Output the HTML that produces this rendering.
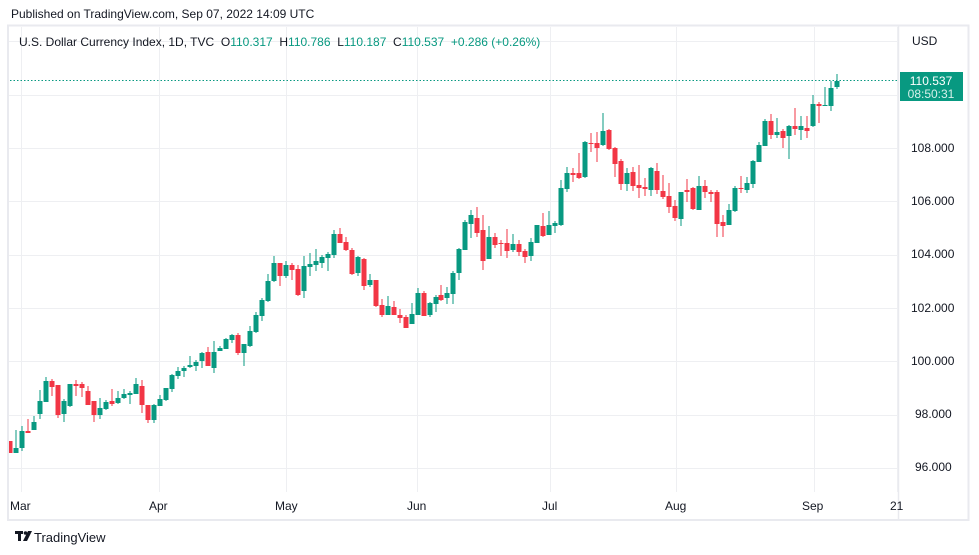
<!DOCTYPE html>
<html><head><meta charset="utf-8"><style>
html,body{margin:0;padding:0;background:#fff;}
body{width:979px;height:555px;position:relative;overflow:hidden;font-family:"Liberation Sans","DejaVu Sans",sans-serif;}
.t{position:absolute;white-space:nowrap;}
</style></head><body>
<div class="t" style="left:11px;top:7px;font-size:12px;color:#131722;">Published on TradingView.com, Sep 07, 2022 14:09 UTC</div>
<svg id="s" width="979" height="555" style="position:absolute;left:0;top:0" xmlns="http://www.w3.org/2000/svg">
<rect x="8" y="25.5" width="960.5" height="494.5" fill="none" stroke="#e9eaef" stroke-width="2"/>
<line x1="898.5" y1="26" x2="898.5" y2="519" stroke="#e9eaef" stroke-width="1.5"/>
<g id="grid" stroke="#eeeff2" stroke-width="1"></g>
<line x1="10" y1="80.5" x2="898" y2="80.5" stroke="#089981" stroke-width="1" stroke-dasharray="1.5,2"/>
<g id="c"></g>
<rect x="900" y="72" width="63" height="29" fill="#089981"/>
<text x="931" y="85" font-size="12" fill="#fff" text-anchor="middle" font-family="Liberation Sans, sans-serif">110.537</text>
<text x="931" y="98" font-size="12" fill="#d6f0ea" text-anchor="middle" font-family="Liberation Sans, sans-serif">08:50:31</text>
<text x="912" y="45" font-size="12" fill="#131722" font-family="Liberation Sans, sans-serif">USD</text>
<g font-size="12" fill="#131722" font-family="Liberation Sans, sans-serif">
<text x="911" y="152">108.000</text><text x="911" y="205">106.000</text><text x="911" y="258">104.000</text>
<text x="911" y="312">102.000</text><text x="911" y="365">100.000</text><text x="915" y="418">98.000</text><text x="915" y="471">96.000</text>
<text x="10" y="510">Mar</text><text x="149" y="510">Apr</text><text x="275" y="510">May</text><text x="407" y="510">Jun</text>
<text x="542" y="510">Jul</text><text x="665" y="510">Aug</text><text x="802" y="510">Sep</text><text x="890" y="510">21</text>
</g>
<g transform="translate(15,531)"><rect x="0" y="0" width="8" height="3" fill="#131722"/><rect x="3" y="0" width="3" height="10" fill="#131722"/><circle cx="10.5" cy="2" r="1.8" fill="#131722"/><polygon points="13,0 17,0 12,10 8,10" fill="#131722"/></g>
<text x="34" y="542" font-size="13" fill="#131722" font-family="Liberation Sans, sans-serif">TradingView</text>
</svg>
<div class="t" style="left:19px;top:35px;font-size:12px;color:#131722;">U.S. Dollar Currency Index, 1D, TVC&nbsp; O<span style="color:#089981">110.317</span>&nbsp; H<span style="color:#089981">110.786</span>&nbsp; L<span style="color:#089981">110.187</span>&nbsp; C<span style="color:#089981">110.537</span>&nbsp; <span style="color:#089981">+0.286 (+0.26%)</span></div>
<script>
var NS="http://www.w3.org/2000/svg";
var g=document.getElementById("grid");
function L(x1,y1,x2,y2){var l=document.createElementNS(NS,"line");l.setAttribute("x1",x1);l.setAttribute("y1",y1);l.setAttribute("x2",x2);l.setAttribute("y2",y2);g.appendChild(l);}
for(var p=96;p<=112;p+=2){var y=Math.round(148-(p-108)*26.65)+0.5;L(9,y,898,y);}
[21,159,286,417,550,676,814,897].forEach(function(x){L(x+0.5,27,x+0.5,492);});
var d=[
"r,441,453,441,453","g,448,453,430,453","g,431,448,426,451","r,431,433,419,433","g,422,430,416,430","g,401,414,390,419","g,381,402,377,402","r,381,387,379,396","r,385,415,385,418","g,401,414,399,422",
"g,384,406,384,407","r,384,386,380,396","r,384,388,382,397","r,391,405,386,405","r,401,415,401,422","g,408,415,398,419","g,402,409,400,410","r,401,404,389,406","g,398,403,391,404","g,394,398,389,399",
"g,393,395,391,404","g,384,394,378,394","r,386,405,380,413","r,405,420,405,423","g,405,420,404,423","g,399,406,395,406","g,388,400,388,401","g,375,389,374,392","g,371,376,367,379","g,368,371,366,377",
"g,365,367,356,368","g,362,366,360,371","g,353,361,352,368","r,352,366,347,366","g,352,368,341,373","g,348,351,346,351","g,339,349,338,349","g,335,340,334,343","r,335,353,333,355","g,344,353,344,366",
"g,331,346,326,347","g,315,332,312,333","g,300,316,298,321","g,281,301,274,302","g,263,281,256,282","r,263,276,263,286","g,265,276,261,278","r,265,270,263,280","r,269,295,265,296","g,266,291,256,298",
"g,264,267,253,276","g,261,265,249,271","g,257,263,255,268","g,254,258,252,271","g,234,255,230,258","r,234,243,228,243","r,242,250,237,251","r,250,274,248,275","g,257,273,256,276","r,259,286,258,290",
"g,280,285,274,287","r,280,306,280,307","r,305,315,299,317","g,306,315,296,315","r,307,315,301,315","r,315,318,309,323","r,317,328,315,328","g,314,324,303,324","g,293,315,288,315","r,293,316,291,316",
"g,303,315,302,317","g,297,304,295,312","r,295,300,285,301","g,293,298,287,304","g,273,294,271,304","g,249,273,248,280","g,222,250,220,250","g,215,224,210,238","r,218,233,207,237","r,230,261,215,270",
"g,237,259,226,259","r,237,245,233,248","r,243,244,240,256","r,243,251,229,258","g,244,250,234,252","r,244,252,240,256","r,251,257,249,263","g,242,256,238,261","g,225,243,225,243","r,226,236,213,237",
"g,225,235,211,235","g,223,226,221,233","g,188,225,180,226","g,173,189,167,192","r,173,175,168,182","r,173,178,153,179","g,142,177,141,178","r,143,144,133,152","r,143,148,132,162","g,131,145,113,146",
"r,130,149,129,150","r,148,164,147,177","r,161,184,159,190","g,173,184,168,191","r,172,186,167,191","r,185,188,165,198","r,187,189,178,196","g,168,190,167,196","r,171,190,163,194","r,191,197,175,199",
"r,196,207,183,213","r,206,218,200,221","g,192,219,192,226","r,190,192,179,202","r,188,209,187,210","g,186,210,176,210","r,186,192,180,198","r,192,194,190,202","r,192,224,190,237","r,222,226,215,237",
"g,210,225,204,225","g,188,211,186,212","r,188,189,176,193","g,183,190,177,193","g,161,184,160,188","g,145,162,142,162","g,121,146,119,146","r,121,135,114,139","g,132,135,118,138","r,131,138,129,148",
"g,126,136,125,159","r,126,129,108,135","g,126,130,116,140","r,128,131,116,138","g,104,126,95,127","r,104,106,102,123","g,105,106,87,106","g,88,106,81,111","g,81,87,74,89"];
var c=document.getElementById("c");
d.forEach(function(s,i){var a=s.split(",");var col=a[0]=="g"?"#089981":"#f23645";
var x=10+5.993*i;var bt=+a[1],bb=+a[2],wt=+a[3],wb=+a[4];
var w=document.createElementNS(NS,"rect");w.setAttribute("x",(Math.round(x)-0.5));w.setAttribute("width",1);w.setAttribute("y",wt);w.setAttribute("height",Math.max(1,wb-wt));w.setAttribute("fill",col);c.appendChild(w);
var b=document.createElementNS(NS,"rect");var bx=Math.round(x)-2.5;if(bx<9)bx=9;b.setAttribute("x",bx);b.setAttribute("width",Math.round(x)+2.5-bx);b.setAttribute("y",bt);b.setAttribute("height",Math.max(1,bb-bt));b.setAttribute("fill",col);c.appendChild(b);});
</script>
</body></html>
